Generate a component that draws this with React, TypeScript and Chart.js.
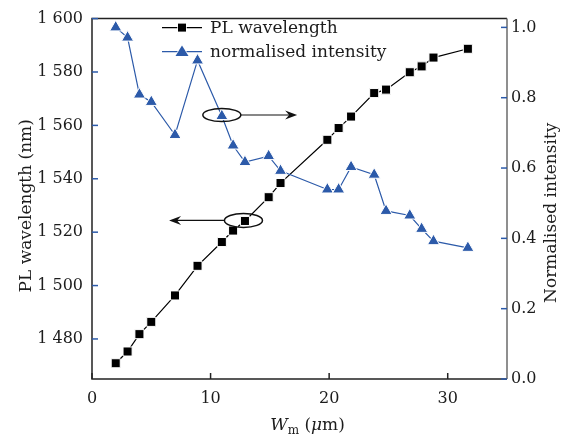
import React, { useEffect, useRef } from 'react';
import { Chart, registerables } from 'chart.js';

Chart.register(...registerables);

const widths = [2, 3, 4, 5, 7, 8.9, 10.95, 11.9, 12.9, 14.9, 15.9, 19.85, 20.8, 21.85, 23.8, 24.8, 26.8, 27.8, 28.8, 31.7];
const plWavelength = [1470.9, 1475.3, 1481.8, 1486.4, 1496.3, 1507.4, 1516.3, 1520.6, 1524.2, 1533.1, 1538.4, 1554.6, 1559.0, 1563.3, 1572.1, 1573.4, 1579.9, 1582.1, 1585.4, 1588.7];
const intensity = [1.0, 0.971, 0.809, 0.788, 0.694, 0.906, 0.748, 0.664, 0.617, 0.634, 0.592, 0.539, 0.539, 0.603, 0.581, 0.478, 0.465, 0.427, 0.392, 0.373];
const xTicks = [0, 10, 20, 30];
const wlTicks = [1480, 1500, 1520, 1540, 1560, 1580, 1600];
const intTicks = [0, 0.2, 0.4, 0.6, 0.8, 1.0];
const seriesNames = ['PL wavelength', 'normalised intensity'];

const BLUE = '#2c5aa9';
const FONT = "'DejaVu Serif', serif";
const TEXT = '#1c1c1c';

function drawArrowHead(ctx: CanvasRenderingContext2D, tx: number, ty: number, dir: number) {
  ctx.beginPath();
  ctx.moveTo(tx, ty);
  ctx.lineTo(tx - dir * 12, ty - 4.5);
  ctx.lineTo(tx - dir * 8, ty);
  ctx.lineTo(tx - dir * 12, ty + 4.5);
  ctx.closePath();
  ctx.fill();
}

const decorPlugin = {
  id: 'decor',
  afterDraw(chart: any) {
    const ctx: CanvasRenderingContext2D = chart.ctx;
    const { left, right, top, bottom } = chart.chartArea;
    const xs = chart.scales.x;
    const ys = chart.scales.y;
    const y1 = chart.scales.y1;
    ctx.save();
    // frame
    ctx.strokeStyle = '#222';
    ctx.lineWidth = 1.5;
    ctx.beginPath();
    ctx.moveTo(right, top);
    ctx.lineTo(left, top);
    ctx.lineTo(left, bottom);
    ctx.lineTo(right, bottom);
    ctx.stroke();
    ctx.strokeStyle = '#6a6a6a';
    ctx.beginPath();
    ctx.moveTo(right, top);
    ctx.lineTo(right, bottom);
    ctx.stroke();

    // inward ticks
    ctx.lineWidth = 1.5;
    ctx.strokeStyle = BLUE;
    for (const v of wlTicks) {
      const py = ys.getPixelForValue(v);
      ctx.beginPath();
      ctx.moveTo(left, py);
      ctx.lineTo(left + 6, py);
      ctx.stroke();
    }
    for (const v of intTicks) {
      const py = y1.getPixelForValue(v);
      ctx.beginPath();
      ctx.moveTo(right, py);
      ctx.lineTo(right - 6, py);
      ctx.stroke();
    }
    ctx.strokeStyle = '#222';
    for (const v of xTicks) {
      const px = xs.getPixelForValue(v);
      ctx.beginPath();
      ctx.moveTo(px, bottom);
      ctx.lineTo(px, bottom - 6);
      ctx.stroke();
    }

    // ellipses and arrows
    ctx.strokeStyle = '#111';
    ctx.fillStyle = '#111';
    ctx.lineWidth = 1.5;
    const e1x = xs.getPixelForValue(widths[6]);
    const e1y = y1.getPixelForValue(intensity[6]) - 1;
    ctx.beginPath();
    ctx.ellipse(e1x, e1y, 19, 6.5, 0, 0, Math.PI * 2);
    ctx.stroke();
    const a1 = xs.getPixelForValue(17.3);
    ctx.lineWidth = 1.2;
    ctx.beginPath();
    ctx.moveTo(e1x + 19, e1y);
    ctx.lineTo(a1 - 6, e1y);
    ctx.stroke();
    drawArrowHead(ctx, a1, e1y, 1);

    ctx.lineWidth = 1.5;
    const e2x = xs.getPixelForValue(widths[8]) - 1.5;
    const e2y = ys.getPixelForValue(plWavelength[8]) - 0.5;
    ctx.beginPath();
    ctx.ellipse(e2x, e2y, 19, 7, 0, 0, Math.PI * 2);
    ctx.stroke();
    const a2 = xs.getPixelForValue(6.5);
    ctx.lineWidth = 1.2;
    ctx.beginPath();
    ctx.moveTo(e2x - 19, e2y);
    ctx.lineTo(a2 + 6, e2y);
    ctx.stroke();
    drawArrowHead(ctx, a2, e2y, -1);

    // legend
    const rows = [
      { y: top + 9, color: '#000', style: 'rect', label: seriesNames[0] },
      { y: top + 33, color: BLUE, style: 'triangle', label: seriesNames[1] },
    ];
    const lx0 = left + 70;
    const lx1 = left + 110;
    for (const r of rows) {
      ctx.strokeStyle = r.color;
      ctx.fillStyle = r.color;
      ctx.lineWidth = 1.2;
      ctx.beginPath();
      ctx.moveTo(lx0, r.y);
      ctx.lineTo(lx1, r.y);
      ctx.stroke();
      const mx = (lx0 + lx1) / 2;
      ctx.strokeStyle = '#fff';
      ctx.lineWidth = 1.5;
      ctx.beginPath();
      if (r.style === 'rect') {
        ctx.rect(mx - 4, r.y - 4, 8, 8);
      } else {
        ctx.moveTo(mx, r.y - 6);
        ctx.lineTo(mx + 6.5, r.y + 4.5);
        ctx.lineTo(mx - 6.5, r.y + 4.5);
        ctx.closePath();
      }
      ctx.stroke();
      ctx.fill();
      ctx.fillStyle = TEXT;
      ctx.font = `17px ${FONT}`;
      ctx.textAlign = 'left';
      ctx.textBaseline = 'middle';
      ctx.fillText(r.label, lx1 + 8, r.y + 1);
    }

    // axis titles
    ctx.fillStyle = TEXT;
    ctx.font = `17px ${FONT}`;
    ctx.textAlign = 'center';
    ctx.textBaseline = 'middle';
    ctx.save();
    ctx.translate(27, (top + bottom) / 2 + 7);
    ctx.rotate(-Math.PI / 2);
    ctx.fillText('PL wavelength (nm)', 0, 0);
    ctx.restore();
    ctx.save();
    ctx.translate(552, (top + bottom) / 2 + 14);
    ctx.rotate(-Math.PI / 2);
    ctx.fillText('Normalised intensity', 0, 0);
    ctx.restore();

    // x title: W_m (μm)
    const parts = [
      { t: 'W', f: `italic 17px ${FONT}`, dy: 0 },
      { t: 'm', f: `12px ${FONT}`, dy: 4 },
      { t: ' (', f: `17px ${FONT}`, dy: 0 },
      { t: 'μ', f: `italic 17px ${FONT}`, dy: 0 },
      { t: 'm)', f: `17px ${FONT}`, dy: 0 },
    ];
    let total = 0;
    const wsz: number[] = [];
    for (const p of parts) {
      ctx.font = p.f;
      const w = ctx.measureText(p.t).width;
      wsz.push(w);
      total += w;
    }
    let cx = (left + right) / 2 + 8 - total / 2;
    const base = 430;
    ctx.textAlign = 'left';
    ctx.textBaseline = 'alphabetic';
    parts.forEach((p, i) => {
      ctx.font = p.f;
      ctx.fillText(p.t, cx, base + p.dy);
      cx += wsz[i];
    });
    ctx.restore();
  },
};

export default function App() {
  const ref = useRef<HTMLCanvasElement>(null);
  useEffect(() => {
    if (!ref.current) return;
    const tickFont = { family: FONT, size: 16 };
    const chart = new Chart(ref.current, {
      type: 'line',
      data: {
        datasets: [
          {
            label: seriesNames[1],
            data: widths.map((w, i) => ({ x: w, y: intensity[i] })),
            yAxisID: 'y1',
            borderColor: BLUE,
            borderWidth: 1.2,
            pointStyle: 'triangle',
            pointRadius: 7,
            pointBackgroundColor: BLUE,
            pointBorderColor: '#fff',
            pointBorderWidth: 1,
            tension: 0,
          },
          {
            label: seriesNames[0],
            data: widths.map((w, i) => ({ x: w, y: plWavelength[i] })),
            yAxisID: 'y',
            borderColor: '#000',
            borderWidth: 1.2,
            pointStyle: 'rect',
            pointRadius: 6.4,
            pointBackgroundColor: '#000',
            pointBorderColor: '#fff',
            pointBorderWidth: 1,
            tension: 0,
          },
        ],
      },
      options: {
        animation: false,
        responsive: false,
        devicePixelRatio: 1,
        layout: { padding: { top: 15, left: 0, right: 0, bottom: 0 } },
        plugins: { legend: { display: false }, tooltip: { enabled: false } },
        scales: {
          x: {
            type: 'linear',
            min: 0,
            max: 35,
            grid: { display: false, drawTicks: false },
            border: { display: false },
            afterBuildTicks: (s: any) => { s.ticks = xTicks.map((v) => ({ value: v })); },
            afterFit: (s: any) => { s.height = 62; },
            ticks: { font: tickFont, color: TEXT, padding: 10, maxRotation: 0, callback: (v: any) => String(v) },
          },
          y: {
            type: 'linear',
            position: 'left',
            min: 1465,
            max: 1600,
            grid: { display: false, drawTicks: false },
            border: { display: false },
            afterBuildTicks: (s: any) => { s.ticks = wlTicks.map((v) => ({ value: v })); },
            afterFit: (s: any) => { s.width = 92; },
            ticks: {
              font: tickFont,
              color: TEXT,
              padding: 9,
              callback: (v: any) => {
                const n = Number(v);
                const th = Math.floor(n / 1000);
                const rest = String(n % 1000).padStart(3, '0');
                return th > 0 ? `${th} ${rest}` : String(n);
              },
            },
          },
          y1: {
            type: 'linear',
            position: 'right',
            min: 0,
            max: 1.025,
            grid: { display: false, drawTicks: false },
            border: { display: false },
            afterBuildTicks: (s: any) => { s.ticks = intTicks.map((v) => ({ value: v })); },
            afterFit: (s: any) => { s.width = 59; },
            ticks: { font: tickFont, color: TEXT, padding: 4, callback: (v: any) => Number(v).toFixed(1) },
          },
        },
      },
      plugins: [decorPlugin],
    });
    return () => chart.destroy();
  }, []);
  return (
    <div style={{ position: 'fixed', left: 0, top: 0, width: 566, height: 441, background: '#fff' }}>
      <canvas ref={ref} width={566} height={441} style={{ width: 566, height: 441, display: 'block' }} />
    </div>
  );
}
